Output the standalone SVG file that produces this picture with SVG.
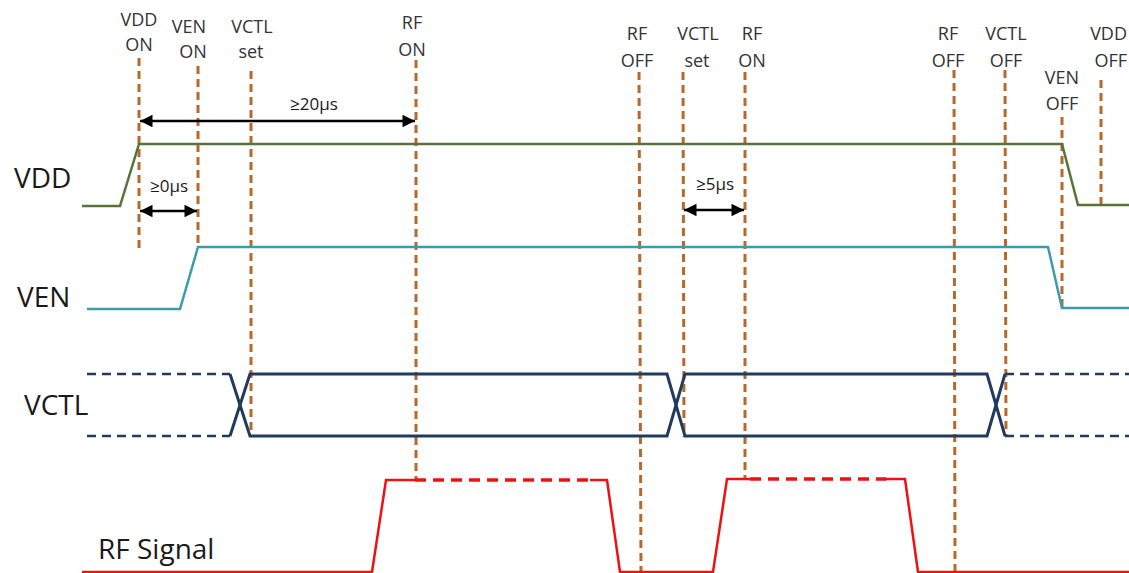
<svg xmlns="http://www.w3.org/2000/svg" width="1129" height="573" viewBox="0 0 1129 573">
<style>
.lbl{font-family:"Open Sans","Liberation Sans",sans-serif;font-size:18px;fill:#333;text-anchor:middle}
.lble{font-family:"Open Sans","Liberation Sans",sans-serif;font-size:18px;fill:#333;text-anchor:end}
.big{font-family:"Open Sans","Liberation Sans",sans-serif;font-size:28px;fill:#1a1a1a}
.tm{font-family:"Open Sans","Liberation Sans",sans-serif;font-size:17px;fill:#1a1a1a;text-anchor:middle}
.mk{stroke:#B8692A;stroke-width:3;stroke-dasharray:8 5;fill:none}
.vdd{stroke:#58733A;stroke-width:2.5;fill:none}
.ven{stroke:#3C9BAE;stroke-width:2.5;fill:none}
.vctl{stroke:#213A60;stroke-width:3;fill:none}
.vctld{stroke:#213A60;stroke-width:2.5;fill:none;stroke-dasharray:9 6}
.rf{stroke:#F01010;stroke-width:2.5;fill:none}
.rfd{stroke:#F01010;stroke-width:3.5;fill:none;stroke-dasharray:11 7}
.arr{stroke:#000;stroke-width:2.5;fill:none}
</style>
<defs>
<marker id="ah" viewBox="0 0 10 10" refX="10" refY="5" markerWidth="6" markerHeight="5" orient="auto-start-reverse" markerUnits="strokeWidth">
<path d="M0,0 L10,5 L0,10 Z" fill="#000"/>
</marker>
</defs>

<g id="signal-labels">
<text class="big" x="14" y="188">VDD</text>
<text class="big" x="17" y="307">VEN</text>
<text class="big" x="24" y="415">VCTL</text>
<text class="big" x="98" y="559">RF Signal</text>
</g>

<g id="event-labels">
<text class="lbl" x="139" y="26">VDD</text><text class="lbl" x="139" y="51">ON</text>
<text class="lbl" x="189" y="33">VEN</text><text class="lbl" x="193" y="58">ON</text>
<text class="lbl" x="252" y="33">VCTL</text><text class="lbl" x="251" y="58">set</text>
<text class="lbl" x="412" y="29">RF</text><text class="lbl" x="412" y="56">ON</text>
<text class="lbl" x="637" y="40">RF</text><text class="lbl" x="637" y="67">OFF</text>
<text class="lbl" x="698" y="40">VCTL</text><text class="lbl" x="697" y="67">set</text>
<text class="lbl" x="752" y="40">RF</text><text class="lbl" x="752" y="67">ON</text>
<text class="lbl" x="948" y="40">RF</text><text class="lbl" x="948" y="67">OFF</text>
<text class="lbl" x="1006" y="40">VCTL</text><text class="lbl" x="1006" y="67">OFF</text>
<text class="lbl" x="1062" y="84">VEN</text><text class="lbl" x="1062" y="110">OFF</text>
<text class="lble" x="1127" y="40">VDD</text><text class="lble" x="1127" y="67">OFF</text>
</g>

<g id="markers">
<line class="mk" x1="139" y1="58" x2="139" y2="248"/>
<line class="mk" x1="198" y1="66" x2="198" y2="248"/>
<line class="mk" x1="251" y1="71" x2="251" y2="437"/>
<line class="mk" x1="416" y1="60" x2="416" y2="480"/>
<line class="mk" x1="639" y1="72" x2="641" y2="573"/>
<line class="mk" x1="683" y1="72" x2="684" y2="437"/>
<line class="mk" x1="745" y1="72" x2="745" y2="478"/>
<line class="mk" x1="954" y1="70" x2="955" y2="573"/>
<line class="mk" x1="1005" y1="70" x2="1006" y2="437"/>
<line class="mk" x1="1062" y1="117" x2="1062" y2="308"/>
<line class="mk" x1="1101" y1="80" x2="1101" y2="205"/>
</g>

<g id="vdd">
<polyline class="vdd" points="82,206 120,206 139,144 1062,144 1078,205 1129,205"/>
</g>

<g id="ven">
<polyline class="ven" points="87,309 180,309 198,247 1048,247 1062,308 1129,308"/>
</g>

<g id="vctl">
<line class="vctld" x1="87" y1="374" x2="230" y2="374"/>
<line class="vctld" x1="87" y1="436" x2="230" y2="436"/>
<polyline class="vctl" points="230,374 250,436 667,436 685,374 987,374 1005,436"/>
<polyline class="vctl" points="230,436 250,374 667,374 685,436 987,436 1005,374"/>
<line class="vctld" x1="1005" y1="374" x2="1129" y2="374"/>
<line class="vctld" x1="1005" y1="436" x2="1129" y2="436"/>
</g>

<g id="rf-signal">
<polyline class="rf" points="82,572 372,572 386,480 415,480"/>
<line class="rfd" x1="415" y1="480" x2="592" y2="480"/>
<polyline class="rf" points="590,480 607,480 620,572 713,572 727,479 750,479"/>
<line class="rfd" x1="750" y1="479" x2="886" y2="479"/>
<polyline class="rf" points="884,479 905,479 918,572 1129,572"/>
</g>

<g id="connectors">
<line class="arr" x1="140" y1="121" x2="415" y2="121" marker-start="url(#ah)" marker-end="url(#ah)"/>
<text class="tm" x="314" y="110">≥20µs</text>
<line class="arr" x1="140" y1="211" x2="197" y2="211" marker-start="url(#ah)" marker-end="url(#ah)"/>
<text class="tm" x="169" y="192">≥0µs</text>
<line class="arr" x1="684" y1="210" x2="744" y2="210" marker-start="url(#ah)" marker-end="url(#ah)"/>
<text class="tm" x="715" y="190">≥5µs</text>
</g>
</svg>
